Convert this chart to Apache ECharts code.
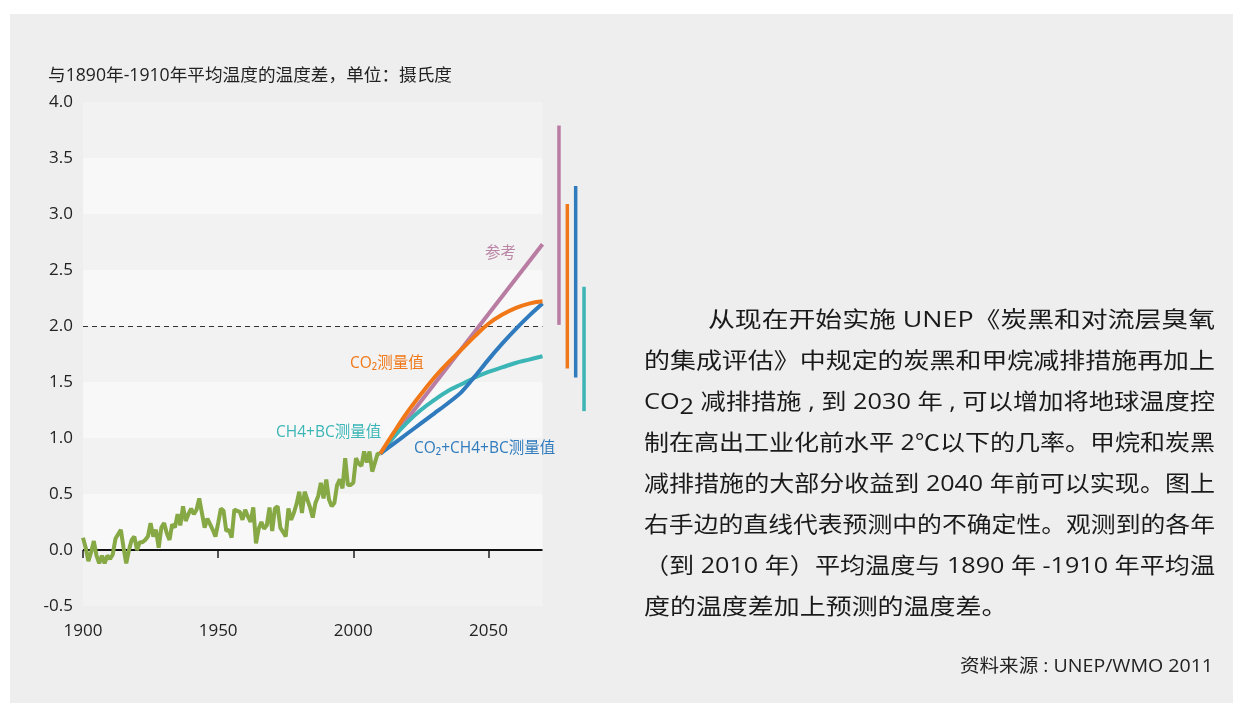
<!DOCTYPE html>
<html>
<head>
<meta charset="utf-8">
<script src="https://cdn.jsdelivr.net/npm/echarts@6/dist/echarts.min.js"></script>
<style>
html,body{margin:0;padding:0;background:#ffffff;}
#c{width:1233px;height:706px;}
</style>
</head>
<body>
<div id="c"></div>
<script>
// ---------- data ----------
const obsStartYear = 1900;
const observedTemp = [
  0.11,0.02,-0.10,-0.02,0.08,-0.05,-0.12,-0.05,-0.12,-0.05,
  -0.08,-0.04,0.10,0.14,0.18,0.02,-0.12,0.00,0.09,0.12,
  0.00,0.07,0.07,0.09,0.12,0.24,0.12,0.18,0.02,0.20,
  0.24,0.15,0.09,0.23,0.20,0.32,0.22,0.39,0.26,0.32,
  0.37,0.32,0.36,0.46,0.33,0.20,0.28,0.23,0.18,0.12,
  0.24,0.37,0.35,0.17,0.18,0.11,0.36,0.35,0.34,0.27,
  0.36,0.30,0.25,0.38,0.06,0.19,0.25,0.19,0.22,0.38,
  0.17,0.37,0.39,0.20,0.16,0.12,0.37,0.27,0.33,0.41,
  0.52,0.33,0.52,0.45,0.38,0.29,0.42,0.48,0.60,0.46,
  0.63,0.45,0.39,0.42,0.58,0.63,0.55,0.82,0.58,0.58,
  0.60,0.82,0.77,0.75,0.88,0.78,0.88,0.70,0.78,0.86,
  0.86
];
const refYears = [2010, 2070];
const refValues = [0.86, 2.73];
const projYears = [2010,2015,2020,2025,2030,2035,2040,2045,2050,2055,2060,2065,2070];
const co2Values    = [0.86,1.05,1.23,1.39,1.54,1.67,1.79,1.91,2.02,2.10,2.16,2.20,2.22];
const allValues    = [0.86,0.95,1.04,1.13,1.22,1.31,1.41,1.55,1.70,1.84,1.97,2.09,2.20];
const ch4bcValues  = [0.86,1.01,1.14,1.25,1.34,1.42,1.48,1.54,1.59,1.63,1.67,1.70,1.73];
const rangeNames = ['参考','CO2','CO2+CH4+BC','CH4+BC'];
const rangeLow  = [2.01, 1.62, 1.54, 1.24];
const rangeHigh = [3.79, 3.09, 3.25, 2.35];
const xTicks = [1900, 1950, 2000, 2050];
const refLevels = [0, 2];

const titleText = '与1890年-1910年平均温度的温度差，单位：摄氏度';
const seriesLabels = ['参考', 'CO₂测量值', 'CH4+BC测量值', 'CO₂+CH4+BC测量值'];
const paraLines = [
  '从现在开始实施 UNEP《炭黑和对流层臭氧',
  '的集成评估》中规定的炭黑和甲烷减排措施再加上',
  'CO2 减排措施 , 到 2030 年 , 可以增加将地球温度控',
  '制在高出工业化前水平 2℃以下的几率。甲烷和炭黑',
  '减排措施的大部分收益到 2040 年前可以实现。图上',
  '右手边的直线代表预测中的不确定性。观测到的各年',
  '（到 2010 年）平均温度与 1890 年 -1910 年平均温',
  '度的温度差加上预测的温度差。'
];
const sourceText = '资料来源 : UNEP/WMO 2011';

// ---------- styles ----------
const FONT = '"Open Sans", "Noto Sans CJK SC", sans-serif';
const C_GREEN = '#86a845', C_PINK = '#b97ca3', C_ORANGE = '#f07818', C_BLUE = '#2f7bbd', C_TEAL = '#3cb5b6';

const pair = (xs, ys) => ys.map((v, i) => [xs[i], v]);
const obsData = observedTemp.map((v, i) => [obsStartYear + i, v]);

const mctx = document.createElement('canvas').getContext('2d');
function textWidth(t, size) { mctx.font = size + 'px ' + FONT; return mctx.measureText(t).width; }

const PARA_SIZE = 22;
const TITLE_SIZE = 17.5;
const SRC_SIZE = 18;
const LBL_SIZE = 15.5;
const graphics = [
  { type: 'rect', z: -100, silent: true, shape: { x: 10, y: 14, width: 1223, height: 689 }, style: { fill: '#eeeeee' } },
  { type: 'text', x: 48, y: 76, z: 100, scaleX: 404 / textWidth(titleText, TITLE_SIZE),
    style: { text: titleText, fontSize: TITLE_SIZE, fontFamily: FONT, fill: '#222', align: 'left', verticalAlign: 'middle' } },
  { type: 'text', x: 485, y: 254, z: 100, style: { text: seriesLabels[0], fontSize: LBL_SIZE, fontFamily: FONT, fill: '#bb86a6', align: 'left', verticalAlign: 'middle' } },
  { type: 'text', x: 350, y: 364, z: 100, style: { text: seriesLabels[1], fontSize: LBL_SIZE, fontFamily: FONT, fill: C_ORANGE, align: 'left', verticalAlign: 'middle' } },
  { type: 'text', x: 276, y: 433, z: 100, style: { text: seriesLabels[2], fontSize: LBL_SIZE, fontFamily: FONT, fill: C_TEAL, align: 'left', verticalAlign: 'middle' } },
  { type: 'text', x: 414, y: 449, z: 100, style: { text: seriesLabels[3], fontSize: LBL_SIZE, fontFamily: FONT, fill: C_BLUE, align: 'left', verticalAlign: 'middle' } },
  { type: 'text', x: 960, y: 667, z: 100, scaleX: 253 / textWidth(sourceText, SRC_SIZE),
    style: { text: sourceText, fontSize: SRC_SIZE, fontFamily: FONT, fill: '#222', align: 'left', verticalAlign: 'middle' } }
];
const baseScale = 571 / textWidth(paraLines[1], PARA_SIZE);
paraLines.forEach((line, i) => {
  const x0 = i === 0 ? 708 : 644;
  let s = baseScale;
  if (i < 7) s = (1215 - x0) / textWidth(line, PARA_SIZE);
  let style = { text: line, fontSize: PARA_SIZE, fontFamily: FONT, fill: '#1a1a1a', align: 'left', verticalAlign: 'middle' };
  if (line.indexOf('CO2') === 0) {
    style.text = 'CO{s|2}' + line.slice(3);
    style.rich = { s: { fontSize: PARA_SIZE, fontFamily: FONT, fill: '#1a1a1a', padding: [10, 0, 0, 0] } };
  }
  graphics.push({ type: 'text', x: x0, y: 321 + 41 * i, z: 100, scaleX: s, style: style });
});

const chart = echarts.init(document.getElementById('c'));
chart.setOption({
  backgroundColor: '#ffffff',
  animation: false,
  textStyle: { fontFamily: FONT },
  graphic: { elements: graphics },
  grid: [
    { left: 83, right: 690.5, top: 102, bottom: 100 },
    { left: 554.8, width: 33.4, top: 102, bottom: 100 }
  ],
  xAxis: [
    { type: 'value', gridIndex: 0, min: 1900, max: 2070, interval: 50,
      axisLine: { show: false },
      axisTick: { show: true, length: 8, lineStyle: { color: '#222', width: 1.5 }, customValues: xTicks },
      axisLabel: { customValues: xTicks, margin: 17, fontSize: 17, color: '#222', formatter: v => String(v) },
      splitLine: { show: false } },
    { type: 'category', gridIndex: 1, data: rangeNames, show: false }
  ],
  yAxis: [
    { type: 'value', gridIndex: 0, min: -0.5, max: 4, interval: 0.5,
      axisLine: { show: false }, axisTick: { show: false },
      axisLabel: { formatter: v => v.toFixed(1), fontSize: 17, color: '#222', margin: 10 },
      splitLine: { show: false },
      splitArea: { show: true, areaStyle: { color: ['#f2f2f2', '#f8f8f8'] } } },
    { type: 'value', gridIndex: 1, min: -0.5, max: 4, show: false }
  ],
  series: [
    { type: 'line', name: 'observed', data: obsData, showSymbol: false, z: 3,
      lineStyle: { color: C_GREEN, width: 4 }, silent: true,
      markLine: { silent: true, symbol: 'none', label: { show: false }, z: 2,
        data: [
          { yAxis: refLevels[0], lineStyle: { color: '#111', width: 2, type: 'solid' } },
          { yAxis: refLevels[1], lineStyle: { color: '#333', width: 1.2, type: [5, 4] } }
        ] } },
    { type: 'line', name: '参考', data: pair(refYears, refValues), showSymbol: false, z: 4, silent: true,
      lineStyle: { color: C_PINK, width: 4 } },
    { type: 'line', name: 'CH4+BC', data: pair(projYears, ch4bcValues), showSymbol: false, smooth: 0.4, z: 5, silent: true,
      lineStyle: { color: C_TEAL, width: 4 } },
    { type: 'line', name: 'CO2+CH4+BC', data: pair(projYears, allValues), showSymbol: false, smooth: 0.3, z: 6, silent: true,
      lineStyle: { color: C_BLUE, width: 4 } },
    { type: 'line', name: 'CO2', data: pair(projYears, co2Values), showSymbol: false, smooth: 0.4, z: 7, silent: true,
      lineStyle: { color: C_ORANGE, width: 4 } },
    { type: 'bar', xAxisIndex: 1, yAxisIndex: 1, stack: 'r', barWidth: 3.5, silent: true,
      itemStyle: { color: 'rgba(0,0,0,0)' }, data: rangeLow },
    { type: 'bar', xAxisIndex: 1, yAxisIndex: 1, stack: 'r', barWidth: 3.5, silent: true,
      data: rangeHigh.map((h, i) => ({ value: +(h - rangeLow[i]).toFixed(2),
        itemStyle: { color: [C_PINK, C_ORANGE, C_BLUE, C_TEAL][i] } })) }
  ]
});
</script>
</body>
</html>
